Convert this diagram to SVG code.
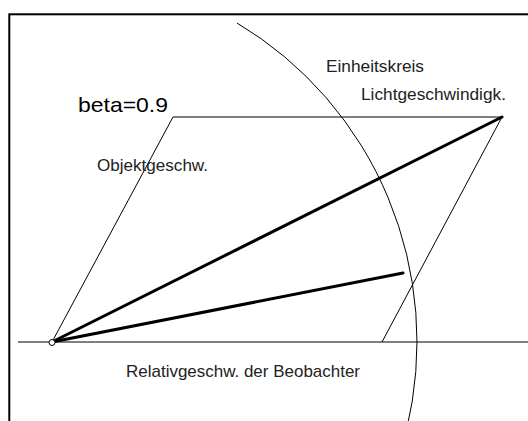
<svg xmlns="http://www.w3.org/2000/svg" width="528" height="421" viewBox="0 0 528 421">
<style>
.thin{fill:none;stroke:#000;stroke-width:1}
.thick{fill:none;stroke:#000;stroke-width:3;stroke-linecap:round}
.lbl{font-family:"Liberation Sans",Arial,sans-serif;font-size:17px;fill:#222}
</style>
<rect x="0" y="0" width="528" height="421" fill="#fff"/>
<rect id="frame" x="9.3" y="14.3" width="600" height="500" fill="none" stroke="#000" stroke-width="2"/>
<g id="connectors">
<line class="thin" x1="18" y1="342" x2="528" y2="342"/>
<path class="thin" d="M52,342 L173,117 L502,117 L382,342"/>
<path id="einheitskreis-arc" class="thin" d="M237,23 A365,370 0 0,1 406.5,430"/>
<line class="thick" x1="52" y1="342" x2="502" y2="117"/>
<line class="thick" x1="52" y1="342" x2="403" y2="273"/>
</g>
<g id="origin"><circle cx="52" cy="342.5" r="3" fill="#fff" stroke="#000" stroke-width="1"/></g>
<g id="beta"><text x="78" y="112" font-family="Liberation Sans,Arial,sans-serif" font-size="21" textLength="90" lengthAdjust="spacingAndGlyphs">beta=0.9</text></g>
<g id="einheitskreis"><text class="lbl" x="326" y="72" textLength="98" lengthAdjust="spacingAndGlyphs">Einheitskreis</text></g>
<g id="lichtgeschwindigk"><text class="lbl" x="361" y="100" textLength="145" lengthAdjust="spacingAndGlyphs">Lichtgeschwindigk.</text></g>
<g id="objektgeschw"><text class="lbl" x="97" y="171" textLength="111" lengthAdjust="spacingAndGlyphs">Objektgeschw.</text></g>
<g id="relativgeschw"><text class="lbl" x="126" y="377" textLength="234" lengthAdjust="spacingAndGlyphs">Relativgeschw. der Beobachter</text></g>
</svg>
